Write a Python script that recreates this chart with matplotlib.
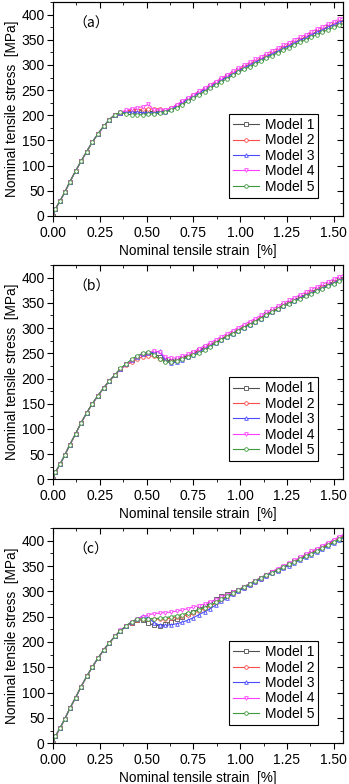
import matplotlib.pyplot as plt
from matplotlib.ticker import MultipleLocator, NullFormatter

plt.rcParams['font.family'] = ['Liberation Sans', 'DejaVu Sans']

# shared strain grid [%]
strain_head = [0, 0.0125, 0.0375, 0.0625, 0.09, 0.12, 0.15, 0.18, 0.21, 0.24, 0.27, 0.30, 0.33]
strain_tail = [0.36, 0.39, 0.42, 0.45, 0.48, 0.51, 0.54, 0.57, 0.60, 0.63, 0.66, 0.69, 0.72, 0.75,
               0.78, 0.81, 0.84, 0.87, 0.90, 0.93, 0.96, 0.99, 1.02, 1.05, 1.08, 1.11, 1.14, 1.17,
               1.20, 1.23, 1.26, 1.29, 1.32, 1.35, 1.38, 1.41, 1.44, 1.47, 1.50, 1.53, 1.56]

models = ['Model 1', 'Model 2', 'Model 3', 'Model 4', 'Model 5']
panel_tags = ['（a）', '（b）', '（c）']

# stress [MPa], elastic part common to all models of a panel
head_a = [0, 14, 30, 47, 68, 89, 109, 128, 147, 163, 178, 191, 201]
head_b = [0, 14, 30, 48, 69, 90, 112, 132, 150, 166, 181, 195, 207]
head_c = [0, 14, 30, 48, 69, 90, 112, 132, 151, 168, 184, 198, 211]

# panel (a)
a_m1 = [205, 207, 208, 209, 209, 208, 207, 207, 208,
        213, 219, 226, 232, 239, 245, 252, 258, 264, 271, 277, 283, 289, 295, 300, 306, 311, 317,
        322, 328, 333, 339, 344, 349, 355, 360, 365, 370, 375, 380, 384, 389]
a_m2 = [205, 208, 210, 211, 212, 212, 213, 213, 210,
        214, 220, 227, 233, 240, 246, 253, 259, 265, 272, 278, 284, 290, 296, 301, 307, 312, 318,
        323, 329, 334, 340, 345, 350, 356, 361, 366, 371, 376, 381, 386, 390]
a_m3 = [204, 206, 206, 206, 205, 205, 205, 206, 207,
        212, 218, 225, 231, 238, 244, 251, 257, 263, 270, 276, 282, 288, 294, 300, 305, 311, 316,
        322, 327, 333, 338, 344, 349, 354, 360, 365, 370, 375, 380, 385, 389]
a_m4 = [206, 210, 213, 215, 217, 222, 210, 211, 211,
        214, 221, 228, 234, 241, 248, 254, 261, 267, 274, 280, 287, 293, 299, 305, 311, 316, 322,
        328, 333, 339, 344, 350, 355, 360, 366, 371, 376, 381, 386, 391, 395]
a_m5 = [206, 202, 201, 201, 201, 202, 203, 204, 206,
        210, 215, 221, 228, 234, 241, 247, 254, 260, 266, 273, 279, 285, 291, 296, 302, 307, 313,
        318, 324, 329, 334, 340, 345, 350, 355, 360, 365, 370, 375, 379, 383]

# panel (b)
b_m1 = [219, 228, 236, 243, 248, 250, 249, 243, 237, 235, 237, 241, 245, 250, 256, 262, 267, 273,
        279, 285, 291, 297, 303, 309, 315, 321, 327, 333, 339, 345, 350, 356, 361, 366, 372, 377,
        382, 387, 392, 397, 402]
b_m2 = [218, 226, 233, 239, 243, 245, 244, 239, 234, 232, 234, 238, 243, 248, 254, 260, 266, 272,
        278, 284, 290, 296, 302, 308, 314, 320, 326, 332, 338, 344, 349, 355, 360, 365, 371, 376,
        381, 386, 391, 396, 400]
b_m3 = [219, 228, 236, 243, 248, 251, 252, 254, 236, 230, 233, 237, 242, 247, 253, 259, 265, 271,
        277, 283, 289, 295, 301, 307, 313, 319, 325, 331, 337, 343, 349, 354, 360, 365, 370, 375,
        380, 385, 390, 395, 399]
b_m4 = [219, 228, 236, 243, 248, 251, 255, 252, 243, 240, 241, 244, 248, 253, 259, 265, 271, 277,
        283, 289, 295, 301, 307, 313, 319, 325, 331, 337, 343, 349, 355, 360, 366, 371, 377, 382,
        387, 392, 397, 402, 407]
b_m5 = [220, 229, 238, 245, 250, 252, 247, 238, 233, 233, 235, 238, 242, 246, 250, 256, 263, 270,
        277, 283, 289, 295, 301, 307, 313, 319, 325, 331, 337, 343, 348, 353, 358, 363, 368, 373,
        378, 383, 388, 393, 398]

# panel (c)
c_m1 = [222, 231, 238, 243, 244, 237, 233, 232, 235, 240, 245, 250, 255, 260, 265, 271, 277, 285,
        290, 295, 299, 303, 309, 315, 321, 327, 333, 338, 343, 349, 354, 359, 365, 371, 376, 382,
        388, 394, 400, 406, 412]
c_m2 = [222, 231, 238, 243, 245, 246, 245, 245, 246, 247, 249, 251, 254, 257, 261, 266, 271, 277,
        283, 289, 295, 301, 307, 313, 319, 325, 331, 337, 342, 348, 353, 358, 364, 369, 375, 381,
        386, 392, 398, 404, 410]
c_m3 = [222, 231, 239, 246, 251, 248, 238, 233, 233, 234, 236, 239, 243, 248, 254, 260, 266, 273,
        280, 287, 294, 300, 306, 312, 318, 324, 330, 336, 341, 346, 351, 356, 362, 367, 372, 378,
        383, 389, 395, 401, 407]
c_m4 = [223, 232, 240, 246, 250, 254, 256, 257, 258, 259, 261, 263, 266, 269, 272, 275, 279, 283,
        288, 293, 298, 303, 309, 315, 321, 327, 333, 339, 345, 350, 355, 361, 367, 373, 379, 384,
        390, 396, 402, 408, 414]
c_m5 = [222, 232, 240, 245, 246, 246, 246, 247, 248, 250, 252, 254, 257, 260, 264, 268, 273, 278,
        284, 290, 296, 302, 308, 314, 320, 326, 332, 337, 342, 348, 353, 358, 363, 369, 374, 380,
        385, 391, 397, 403, 409]

panels = [
    (head_a, [a_m1, a_m2, a_m3, a_m4, a_m5]),
    (head_b, [b_m1, b_m2, b_m3, b_m4, b_m5]),
    (head_c, [c_m1, c_m2, c_m3, c_m4, c_m5]),
]

colors = ['#505050', '#ff4a4a', '#4a4aff', '#ff3cff', '#3c9a3c']
markers = ['s', 'o', '^', 'v', 'o']

fig = plt.figure(figsize=(3.49, 7.84), dpi=100)
# axes boxes in figure fractions: left, bottom, width, height
boxes = [
    [0.152, 0.7245, 0.831, 0.2730],
    [0.152, 0.3886, 0.831, 0.2733],
    [0.152, 0.0519, 0.831, 0.2746],
]


def set_ticks(axis, major, minor):
    axis.set_major_locator(MultipleLocator(major))
    axis.set_minor_locator(MultipleLocator(minor))


for (head, tails), tag, box in zip(panels, panel_tags, boxes):
    ax = fig.add_axes(box)
    for name, tail, c, m in zip(models, tails, colors, markers):
        ax.plot(strain_head + strain_tail, head + tail, color=c, lw=0.8,
                marker=m, ms=2.6, mfc='white', mec=c, mew=0.6, label=name)
    ax.set_xlim(0, 1.55)
    ax.set_ylim(0, 425)
    set_ticks(ax.xaxis, 0.25, 0.125)
    set_ticks(ax.yaxis, 50, 25)
    ax.xaxis.set_major_formatter(lambda v, p: f'{v:.2f}')
    # left/bottom ticks point out, top/right ticks point in
    ax.tick_params(which='both', direction='out', labelsize=10)
    ax.tick_params(axis='x', which='major', length=4, pad=3)
    ax.tick_params(axis='y', which='major', length=4, pad=2)
    ax.tick_params(which='minor', length=2.5)
    top = ax.secondary_xaxis('top')
    set_ticks(top.xaxis, 0.25, 0.125)
    top.xaxis.set_major_formatter(NullFormatter())
    top.tick_params(which='both', direction='in')
    top.tick_params(which='major', length=4)
    top.tick_params(which='minor', length=2.5)
    right = ax.secondary_yaxis('right')
    set_ticks(right.yaxis, 50, 25)
    right.yaxis.set_major_formatter(NullFormatter())
    right.tick_params(which='both', direction='in')
    right.tick_params(which='major', length=4)
    right.tick_params(which='minor', length=2.5)

    ax.set_xlabel('Nominal tensile strain  [%]', fontsize=9.8, labelpad=3)
    ax.set_ylabel('Nominal tensile stress  [MPa]', fontsize=9.8, labelpad=2)
    ax.text(0.07, 0.9, tag, transform=ax.transAxes, fontsize=10,
            family=['Noto Sans CJK SC', 'DejaVu Sans'], va='center')
    leg = ax.legend(loc='lower right', bbox_to_anchor=(0.915, 0.085), fontsize=10,
                    frameon=True, fancybox=False, edgecolor='black', framealpha=1,
                    handlelength=1.9, labelspacing=0.1, borderpad=0.3, handletextpad=0.4,
                    borderaxespad=0)
    leg.get_frame().set_linewidth(0.8)

fig.savefig('out.png', dpi=100)
